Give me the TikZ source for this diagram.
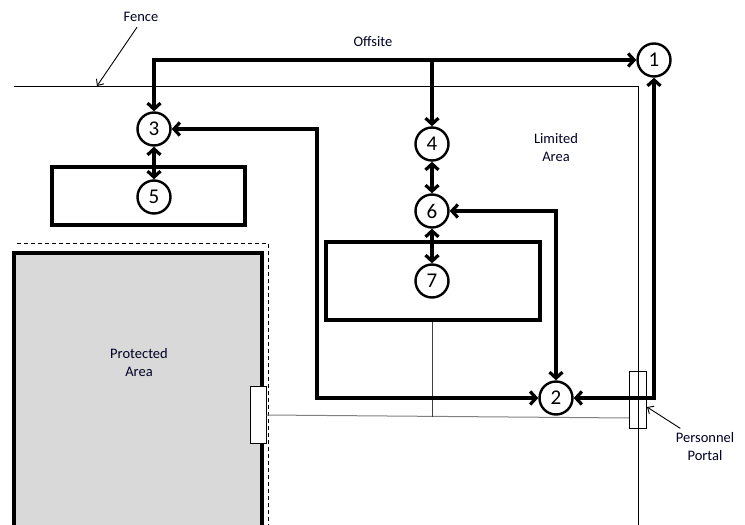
\documentclass[tikz,border=0pt]{standalone}
\usepackage{fontspec}
\setmainfont{Carlito}
\usetikzlibrary{arrows.meta}
\begin{document}
\begin{tikzpicture}[x=1pt,y=-1pt,
  circ/.style={circle,draw,line width=2.4pt,fill=white,minimum size=33pt,inner sep=0pt,font=\fontsize{21}{23}\selectfont},
  conn/.style={line width=3.2pt,>={Straight Barb[length=6pt,width=13pt]}},
  box/.style={draw,line width=4pt,fill=white,inner sep=0pt},
  lbl/.style={font=\fontsize{14.5}{18}\selectfont,align=center,text=black!85!blue},
  thin/.style={line width=1pt},
  pointer/.style={line width=0.9pt,->,>={Straight Barb[length=5pt,width=9pt]}}]
\useasboundingbox (0,0) rectangle (745,525);
% fence
\draw[thin] (14,86) -- (638,86) -- (638,525);
\node[lbl] (fence) at (141,17) {Fence};
\coordinate (fpt) at (97,86);
\draw[pointer] (fence.south) ++(-4,2) -- (fpt);
\node[lbl] (offsite) at (373,42) {Offsite};
\node[lbl] (limited) at (556,148) {Limited\\Area};
% protected area
\fill[gray!30] (14,253) rectangle (262,525);
\draw[line width=4pt] (14,525) -- (14,253) -- (262,253) -- (262,525);
\draw[thin,dash pattern=on 4pt off 3pt] (17,243) -- (268,243) -- (268,525);
\node[lbl] (prot) at (139,363) {Protected\\Area};
\node[draw,thin,fill=white,minimum width=16pt,minimum height=57pt,inner sep=0pt] (door) at (258,414.5) {};
% boxes
\node[box,minimum width=193pt,minimum height=58pt] (b5) at (148.5,196) {};
\node[box,minimum width=214pt,minimum height=78pt] (b7) at (433,281) {};
% thin connecting lines
\coordinate (pend) at (630,418);
\draw[thin,gray] (door.east) ++(0,0.5) -- (pend);
\coordinate (b7foot) at (432,416.5);
\draw[thin,black!75] (b7.south -| b7foot) -- (b7foot);
% circles
\node[circ] (n1) at (654,60) {1};
\node[circ] (n2) at (556,398) {2};
\node[circ] (n3) at (154,129) {3};
\node[circ] (n4) at (432,144) {4};
\node[circ] (n5) at (154,197) {5};
\node[circ] (n6) at (432,211) {6};
\node[circ] (n7) at (432,281) {7};
% connectors
\draw[conn,<->] (n3) |- (n1);
\coordinate (j4) at (432,60);
\draw[conn,->] (j4) -- (n4);
\draw[conn,<->] (n3) -- (n5);
\draw[conn,<->] (n4) -- (n6);
\draw[conn,<->] (n6) -- (n7);
\coordinate (c3) at (317,129);
\draw[conn,<->] (n3) -- (c3) |- (n2);
\draw[conn,<->] (n6) -| (n2);
\draw[conn,<->] (n1) |- (n2);
% personnel portal
\node[draw,thin,minimum width=17pt,minimum height=57pt,inner sep=0pt] (portal) at (637.5,399.5) {};
\node[lbl] (plabel) at (705,447) {Personnel\\Portal};
\coordinate (pp) at (647,407);
\draw[pointer] (plabel.north west) ++(8,-1) -- (pp);
\end{tikzpicture}
\end{document}
